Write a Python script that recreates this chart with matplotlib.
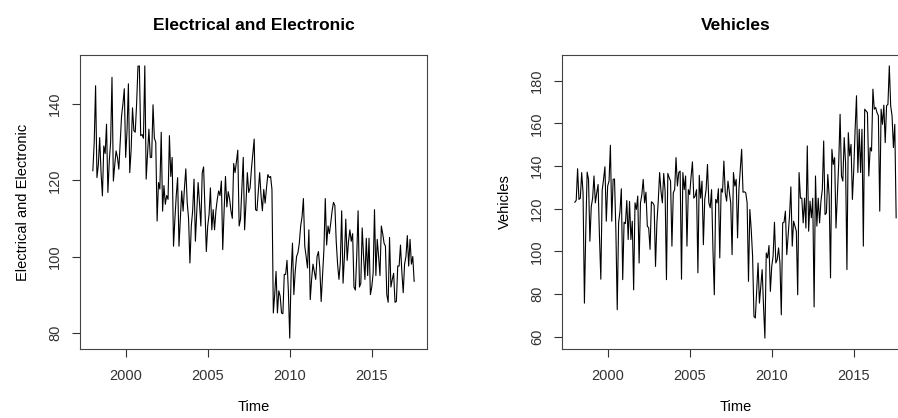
import numpy as np
import matplotlib
matplotlib.use("Agg")
import matplotlib.pyplot as plt

plt.rcParams['font.family'] = ['Liberation Sans', 'DejaVu Sans']

# monthly index, Jan 1998 - Aug 2017
elec = [
    122.5, 130, 144.8, 120.7, 124, 131.2, 122, 115.9, 129, 127, 134.7, 116.8,   # 1998
    125, 130, 147, 119.8, 124, 127.7, 126, 122.9, 130, 136.9, 140, 144,         # 1999
    126, 133, 145.3, 122, 128, 139, 133, 132.6, 140, 149.9, 150, 131.7,         # 2000
    132, 131, 150, 120.3, 127, 133.4, 126, 126, 139.8, 131, 130, 109.3,         # 2001
    119.4, 117.7, 132.6, 111.9, 118.6, 113.7, 116, 115, 131.7, 121, 126, 102.7, # 2002
    109.8, 116, 120.7, 102.7, 110, 117.2, 111.9, 118, 123, 114.2, 110, 98.3,    # 2003
    108, 112, 120.3, 104, 112, 119.4, 114, 108, 122, 123.5, 112, 101.3,         # 2004
    108, 111, 118, 107, 112.3, 107, 112, 115, 117.2, 116, 119.8, 101.8,         # 2005
    112, 121, 113, 117, 115.2, 112, 110, 124.4, 122, 124.8, 127.9, 108,         # 2006
    109.8, 118, 126, 107, 114, 122, 116.8, 118, 123, 127, 130.8, 112.3,         # 2007
    112, 117, 122, 116, 112, 117.6, 114, 118, 121.5, 120.7, 121, 117.6,         # 2008
    85.2, 90, 96.1, 85.2, 91, 89.6, 85.2, 85, 95.3, 95.3, 99, 91,               # 2009
    78.6, 95, 103.5, 90, 96, 100, 101, 103.5, 108, 110.4, 115.2, 102.7,         # 2010
    100, 97, 107, 88.7, 94, 98, 96, 94, 100, 101.3, 97, 88.2,                   # 2011
    95, 101.8, 115.2, 103, 108, 106, 108.8, 112, 114.2, 113.4, 104, 98,         # 2012
    94, 98.4, 112, 93, 100, 109.8, 99, 104, 107, 104, 106, 92,                  # 2013
    91.2, 100, 112, 92, 93, 107.5, 100, 94, 104.8, 95, 104.8, 90,               # 2014
    92, 95.6, 112.3, 95, 104.5, 100, 95, 108, 106, 103.5, 102.7, 90,            # 2015
    88, 105, 92, 94, 95.6, 88, 88.2, 97.5, 97.5, 103, 96, 90.5,                 # 2016
    98, 100, 105.5, 97.5, 104.5, 98, 100, 93.5,                                 # 2017
]

vehicles = [
    123.1, 124, 138.8, 124.4, 125, 137, 127.5, 75.8, 110, 137.2, 133.8, 104.8,        # 1998
    121, 125, 135.4, 122.8, 127.5, 131.4, 107, 87, 128.8, 133.8, 139.7, 114.2,        # 1999
    130.7, 133, 149.8, 114.2, 133.8, 134, 110, 72.7, 113.4, 118.9, 129.4, 86.8,       # 2000
    113.7, 113.1, 123.9, 105.6, 123.5, 105.6, 114.2, 82, 122.8, 119.7, 126, 94.6,     # 2001
    122.8, 126.7, 133.8, 122.8, 127.8, 111.9, 111, 101, 123.3, 122.8, 121.6, 93,      # 2002
    113.4, 123.6, 137, 128.3, 122.8, 136.6, 128.3, 86.8, 136.6, 134.6, 133, 102.5,    # 2003
    127.5, 129, 144, 130.7, 137, 137.7, 87, 137, 129, 135.4, 102.5, 129,              # 2004
    126.7, 135, 142, 125, 126, 129, 90, 135.7, 125, 133, 103.2, 124.4,                # 2005
    129, 140.8, 122.8, 120.5, 129, 101, 79.7, 124.4, 122.8, 129.4, 97, 129.4,         # 2006
    127.8, 142.4, 127.5, 123.6, 133, 128, 122.8, 98.5, 137, 130.7, 133.8, 106.4,      # 2007
    129, 138.5, 147.9, 127.8, 128, 127.5, 122.8, 86, 119.7, 110.3, 97.8, 69.6,        # 2008
    68.8, 82, 94.6, 75.8, 83.7, 91.5, 74.3, 59.4, 99.3, 97, 102.8, 81.3,              # 2009
    93, 97.8, 113.7, 94.6, 96.2, 101.7, 94.6, 70.3, 113.4, 113.7, 118.9, 98.5,        # 2010
    107.2, 116.6, 130.3, 102.5, 114.2, 111.9, 109.5, 79.7, 137, 125, 125, 113.4,      # 2011
    125, 111, 149.5, 109.5, 123.6, 115.8, 125, 74, 135.4, 111.9, 125, 113.4,          # 2012
    123.6, 129, 151.8, 117.3, 118.1, 136.1, 126, 87.6, 147.9, 140.8, 144, 111,        # 2013
    126, 141.6, 164.3, 135.4, 133, 153.4, 141.6, 91.5, 155.7, 144.8, 150.2, 124.4,    # 2014
    138.5, 157.3, 173, 137, 157.3, 137, 157.3, 102.5, 166.7, 165.9, 165.1, 135.4,     # 2015
    148.7, 147.1, 176.1, 166.7, 167.5, 165.1, 163.6, 118.9, 166.7, 159.6, 168.6, 151, # 2016
    168.3, 169, 187, 168.3, 163.6, 148.7, 159.6, 115.8,                               # 2017
]

xticks = [2000, 2005, 2010, 2015]
time = 1998 + np.arange(len(elec)) / 12.0

fig = plt.figure(figsize=(8.98, 4.18), dpi=100)
ax1 = fig.add_axes([80 / 898, 1 - 349 / 418, 347 / 898, 294 / 418])
ax2 = fig.add_axes([562 / 898, 1 - 349 / 418, 347 / 898, 294 / 418])

panels = [
    (ax1, elec, "Electrical and Electronic", [80, 100, 120, 140]),
    (ax2, vehicles, "Vehicles", [60, 80, 100, 120, 140, 160, 180]),
]

for ax, series, name, yt in panels:
    ax.plot(time, series, color="black", linewidth=0.8)
    ax.margins(x=0.04, y=0.04)
    ax.set_xticks(xticks)
    ax.set_yticks(yt)
    ax.tick_params(direction="out", length=5.5, width=0.8, pad=9,
                   labelsize=10.5, colors="#333333")
    ax.tick_params(axis="y", pad=7.5)
    for lab in ax.get_yticklabels():
        lab.set_rotation(90)
        lab.set_va("center")
    for sp in ax.spines.values():
        sp.set_color("#444444")
        sp.set_linewidth(0.8)
    ax.set_title(name, fontsize=12.5, fontweight="bold", pad=18)
    ax.set_xlabel("Time", fontsize=10.5, labelpad=12)
    ax.set_ylabel(name, fontsize=10.5, labelpad=13)

fig.savefig("out.png", dpi=100)
